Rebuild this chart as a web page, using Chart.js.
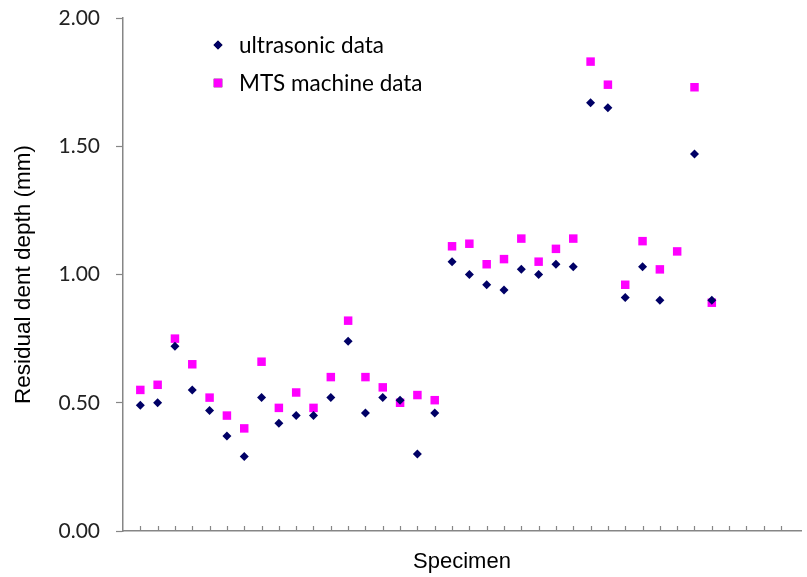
<!DOCTYPE html>
<html>
<head>
<meta charset="utf-8">
<script src="https://cdn.jsdelivr.net/npm/chart.js@4"></script>
<style>
  html, body { margin: 0; padding: 0; background: #fff; }
  #wrap { width: 807px; height: 577px; }
</style>
</head>
<body>
<div id="wrap"><canvas id="dentChart"></canvas></div>
<script>
// specimen number along x
const specimens = [1, 2, 3, 4, 5, 6, 7, 8, 9, 10, 11, 12, 13, 14, 15, 16, 17,
    18, 19, 20, 21, 22, 23, 24, 25, 26, 27, 28, 29, 30, 31, 32, 33, 34];
const ultrasonic = [0.49, 0.50, 0.72, 0.55, 0.47, 0.37, 0.29, 0.52, 0.42, 0.45, 0.45,
    0.52, 0.74, 0.46, 0.52, 0.51, 0.30, 0.46, 1.05, 1.00, 0.96, 0.94, 1.02, 1.00,
    1.04, 1.03, 1.67, 1.65, 0.91, 1.03, 0.90, null, 1.47, 0.90];
const mts = [0.55, 0.57, 0.75, 0.65, 0.52, 0.45, 0.40, 0.66, 0.48, 0.54, 0.48,
    0.60, 0.82, 0.60, 0.56, 0.50, 0.53, 0.51, 1.11, 1.12, 1.04, 1.06, 1.14, 1.05,
    1.10, 1.14, 1.83, 1.74, 0.96, 1.13, 1.02, 1.09, 1.73, 0.89];
const yTicks = [0, 0.5, 1, 1.5, 2];

const axisGray = '#868686';

function toPoints(values){
    let pts = [];
    for(let i = 0; i < specimens.length; i++){
        pts.push({ x: specimens[i], y: values[i] });
    }
    return pts;
}

// small ticks pointing up from the x axis, like the original
const innerTicks = {
    id: 'innerTicks',
    afterDraw(chart){
        const ctx = chart.ctx;
        const xs = chart.scales.x;
        ctx.save();
        ctx.strokeStyle = axisGray;
        ctx.lineWidth = 1.2;
        ctx.beginPath();
        xs.ticks.forEach(t => {
            if (t.value <= 0 || t.value % 1 !== 0) return;
            const px = Math.round(xs.getPixelForValue(t.value)) + 0.5;
            ctx.moveTo(px, xs.top);
            ctx.lineTo(px, xs.top - 5);
        });
        ctx.stroke();
        ctx.restore();
    }
};

// legend sitting inside the plot area
const insideLegend = {
    id: 'insideLegend',
    afterDraw(chart){
        const ctx = chart.ctx;
        const rows = [45, 83];
        ctx.save();
        ctx.font = '22.5px Lato';
        ctx.textBaseline = 'middle';
        ctx.fillStyle = '#000';
        chart.data.datasets.forEach((ds, i) => {
            const y = rows[i];
            Chart.helpers.drawPoint(ctx, {
                pointStyle: ds.pointStyle,
                radius: ds.pointRadius,
                rotation: 0,
                borderWidth: 0
            }, 218, y);
            ctx.fillStyle = ds.backgroundColor;
            ctx.fill();
            ctx.fillStyle = '#000';
            ctx.fillText(ds.label, 239, y + 1);
        });
        ctx.restore();
    }
};

function createChart(){
    const canvas = document.getElementById('dentChart');
    new Chart(canvas, {
        type: 'scatter',
        data: {
            datasets: [{
                label: 'ultrasonic data',
                data: toPoints(ultrasonic),
                pointStyle: 'rectRot',
                pointRadius: 4.5,
                backgroundColor: '#000066',
                borderColor: '#000066',
                borderWidth: 0
            }, {
                label: 'MTS machine data',
                data: toPoints(mts),
                pointStyle: 'rect',
                pointRadius: 6,
                backgroundColor: '#ff00ff',
                borderColor: '#ff00ff',
                borderWidth: 0
            }]
        },
        options: {
            responsive: true,
            maintainAspectRatio: false,
            animation: false,
            layout: { padding: { top: 18, right: 0, left: 0, bottom: 0 } },
            plugins: {
                legend: { display: false },
                tooltip: { enabled: false }
            },
            scales: {
                x: {
                    type: 'linear',
                    min: 0,
                    max: 39.15,
                    afterFit(scale){ scale.height = 46; },
                    grid: { display: false },
                    border: { display: true, color: axisGray, width: 1.5 },
                    ticks: { display: false, stepSize: 1, autoSkip: false },
                    title: {
                        display: true,
                        text: 'Specimen',
                        color: '#000',
                        font: { family: 'Liberation Sans', size: 22 },
                        padding: { top: 0, bottom: 2 }
                    }
                },
                y: {
                    min: 0,
                    max: 2,
                    afterFit(scale){
                        scale.width = 123;
                        scale.paddingTop = 0;
                        scale.paddingBottom = 0;
                    },
                    afterBuildTicks(scale){
                        scale.ticks = yTicks.map(v => ({ value: v }));
                    },
                    grid: {
                        drawOnChartArea: false,
                        drawTicks: true,
                        tickLength: 7,
                        tickColor: axisGray,
                        tickWidth: 1.2
                    },
                    border: { display: true, color: axisGray, width: 1.5 },
                    ticks: {
                        color: '#222',
                        padding: 16,
                        font: { family: 'Lato', size: 21 },
                        callback: v => v.toFixed(2)
                    },
                    title: {
                        display: true,
                        text: 'Residual dent depth (mm)',
                        color: '#000',
                        font: { family: 'Liberation Sans', size: 22.5 },
                        padding: { top: 10, bottom: 0 }
                    }
                }
            }
        },
        plugins: [innerTicks, insideLegend]
    });
}

document.addEventListener('DOMContentLoaded', createChart);
</script>
</body>
</html>
